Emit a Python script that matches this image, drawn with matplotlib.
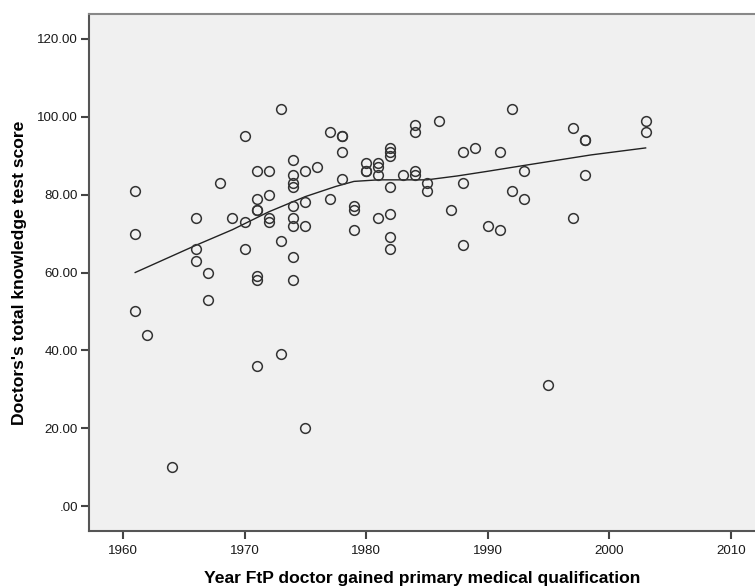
import matplotlib
matplotlib.use("Agg")
import matplotlib.pyplot as plt
from matplotlib.ticker import FuncFormatter

plt.rcParams['font.family'] = ['Liberation Sans', 'DejaVu Sans']

# year of primary qualification and knowledge test score, one entry per doctor
years = [1961, 1961, 1961, 1962, 1964,
         1966, 1966, 1966, 1967, 1967, 1968, 1969,
         1970, 1970, 1970,
         1971, 1971, 1971, 1971, 1971, 1971, 1971,
         1972, 1972, 1972, 1972,
         1973, 1973, 1973,
         1974, 1974, 1974, 1974, 1974, 1974, 1974, 1974, 1974,
         1975, 1975, 1975, 1975, 1976, 1977, 1977,
         1978, 1978, 1978, 1978, 1979, 1979, 1979,
         1980, 1980, 1980, 1981, 1981, 1981, 1981,
         1982, 1982, 1982, 1982, 1982, 1982, 1982, 1983,
         1984, 1984, 1984, 1984, 1985, 1985, 1986, 1987,
         1988, 1988, 1988, 1989, 1990, 1991, 1991, 1992, 1992,
         1993, 1993, 1995, 1997, 1997, 1998, 1998, 1998, 2003, 2003]
scores = [81, 70, 50, 44, 10,
          74, 66, 63, 60, 53, 83, 74,
          95, 73, 66,
          86, 79, 76, 76, 59, 58, 36,
          86, 80, 74, 73,
          102, 68, 39,
          89, 85, 83, 82, 77, 74, 72, 64, 58,
          86, 78, 72, 20, 87, 96, 79,
          95, 95, 91, 84, 77, 76, 71,
          88, 86, 86, 88, 87, 85, 74,
          92, 91, 90, 82, 75, 69, 66, 85,
          98, 96, 86, 85, 83, 81, 99, 76,
          91, 83, 67, 92, 72, 91, 71, 102, 81,
          86, 79, 31, 97, 74, 94, 94, 85, 99, 96]

# loess fit line
fit_years = [1961, 1963, 1966, 1969, 1972, 1975, 1977.5, 1979, 1981, 1983,
             1985, 1987.5, 1990, 1993, 1998.5, 2003]
fit_scores = [60, 62.8, 67, 71, 75.6, 79.5, 82.1, 83.4, 83.8, 83.8,
              83.8, 84.8, 86, 87.5, 90.2, 92]

xticks = [1960, 1970, 1980, 1990, 2000, 2010]
yticks = [0, 20, 40, 60, 80, 100, 120]

fig = plt.figure(figsize=(7.55, 5.88), dpi=100)
ax = fig.add_axes([0.1179, 0.0969, 0.8821, 0.8793])
ax.set_facecolor('#f0f0f0')

ax.plot(fit_years, fit_scores, color='#222222', lw=1.0, zorder=2)
ax.plot(years, scores, 'o', ms=7, mfc='none', mec='#333333', mew=1.1, zorder=3)

ax.set_xlim(1957.2, 2012)
ax.set_ylim(-6.4, 126.4)
ax.set_xticks(xticks)
ax.set_yticks(yticks)
ax.yaxis.set_major_formatter(FuncFormatter(lambda v, p: '.00' if v == 0 else '%.2f' % v))

for side in ['left', 'bottom']:
    ax.spines[side].set_color('#555555')
    ax.spines[side].set_linewidth(1.5)
ax.spines['top'].set_color('#888888')
ax.spines['top'].set_linewidth(1.5)
ax.spines['right'].set_visible(False)
ax.tick_params(direction='out', length=6, width=1.5, color='#444444',
               labelsize=9.6, labelcolor='#1a1a1a', pad=2)
ax.tick_params(axis='x', pad=4)

ax.set_xlabel('Year FtP doctor gained primary medical qualification',
              fontsize=12.6, fontweight='bold', labelpad=10)
ax.set_ylabel("Doctors's total knowledge test score",
              fontsize=12.6, fontweight='bold', labelpad=7)

fig.savefig('out.png', dpi=100)
